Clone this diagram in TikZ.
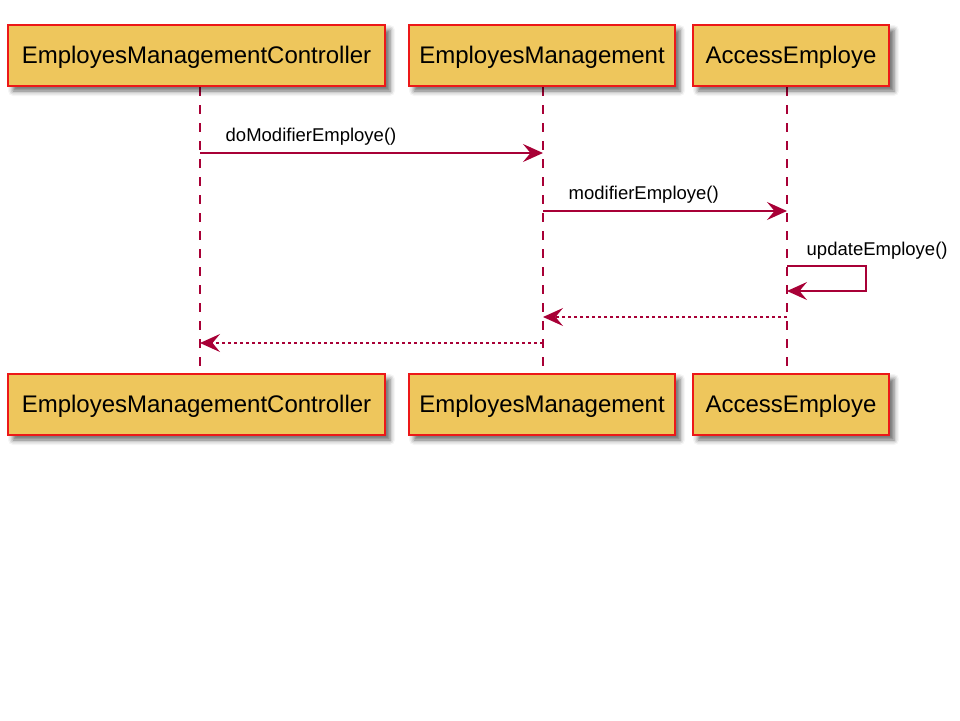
\documentclass[tikz,border=0pt]{standalone}
\usepackage{fontspec}
\setmainfont{Liberation Sans}
\usetikzlibrary{arrows.meta,shadows.blur}
\definecolor{partfill}{RGB}{238,198,92}
\definecolor{partline}{RGB}{236,24,24}
\definecolor{msgline}{RGB}{168,0,54}
\begin{document}
\begin{tikzpicture}[x=1pt,y=-1pt,>={Stealth[length=20pt,width=18pt,inset=7.5pt]}]
\tikzstyle{part}=[draw=partline,line width=1.6pt,fill=partfill,minimum height=61pt,inner sep=0pt,text height=18pt,text depth=2pt,font=\fontsize{24}{28}\selectfont,blur shadow={shadow xshift=5pt,shadow yshift=-5pt,shadow blur radius=5pt,shadow opacity=60}]
\tikzstyle{life}=[draw=msgline,line width=1.5pt,dash pattern=on 9pt off 9pt]
\tikzstyle{msg}=[draw=msgline,line width=1.4pt,->]
\tikzstyle{ret}=[msg,dash pattern=on 3pt off 3pt]
\tikzstyle{lbl}=[anchor=base west,font=\fontsize{18.5}{22}\selectfont,inner sep=0pt,xshift=25pt,yshift=12pt]
\useasboundingbox(0,0)rectangle(960,720);
  % lifelines
  \coordinate(ctlA)at(200,87);
  \coordinate(ctlB)at(200,373);
  \coordinate(mgtA)at(543,87);
  \coordinate(mgtB)at(543,373);
  \coordinate(accA)at(787,87);
  \coordinate(accB)at(787,373);
  \draw[life](ctlA)--(ctlB);
  \draw[life](mgtA)--(mgtB);
  \draw[life](accA)--(accB);
  % participants
  \node(ctlTop)at(196.5,55.5)[part,minimum width=377pt]{EmployesManagementController};
  \node(mgtTop)at(542,55.5)[part,minimum width=266pt]{EmployesManagement};
  \node(accTop)at(791,55.5)[part,minimum width=196pt]{AccessEmploye};
  \node(ctlBot)at(196.5,404.5)[part,minimum width=377pt]{EmployesManagementController};
  \node(mgtBot)at(542,404.5)[part,minimum width=266pt]{EmployesManagement};
  \node(accBot)at(791,404.5)[part,minimum width=196pt]{AccessEmploye};
  % messages
  \coordinate(c1)at(200,153);
  \coordinate(m1)at(543,153);
  \coordinate(m2)at(543,211);
  \coordinate(a2)at(787,211);
  \coordinate(a3)at(787,266);
  \coordinate(a4)at(787,291);
  \coordinate(a5)at(787,317);
  \coordinate(m5)at(543,317);
  \coordinate(m6)at(543,343);
  \coordinate(c6)at(200,343);
  \draw[msg](c1)--node[lbl,pos=0]{doModifierEmploye()}(m1);
  \draw[msg](m2)--node[lbl,pos=0]{modifierEmploye()}(a2);
  \draw[msg](a3)node[lbl,xshift=-6pt,yshift=-1pt]{updateEmploye()}--++(79,0)|-(a4);
  \draw[ret](a5)--(m5);
  \draw[ret](m6)--(c6);
\end{tikzpicture}
\end{document}
